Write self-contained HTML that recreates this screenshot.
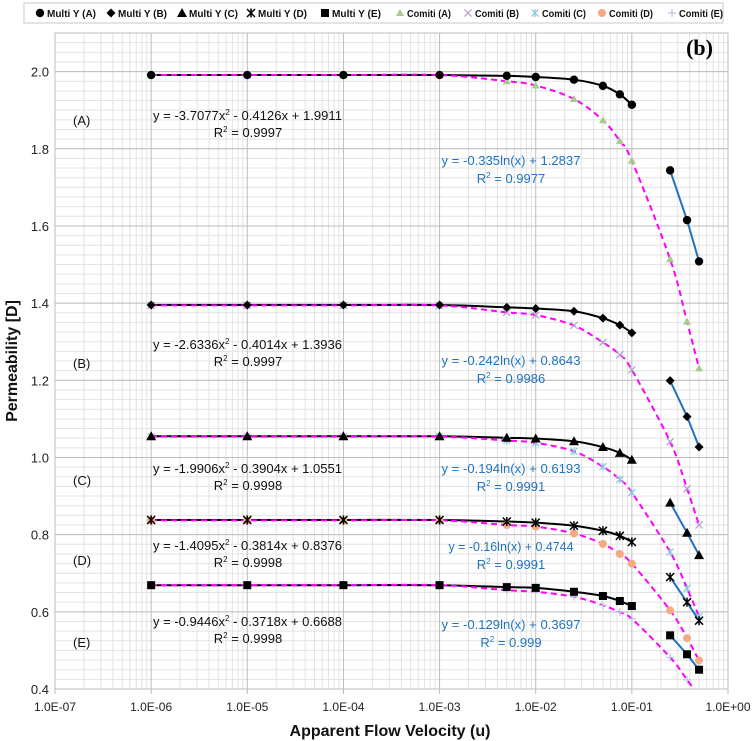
<!DOCTYPE html>
<html><head><meta charset="utf-8">
<style>
html,body{margin:0;padding:0;background:#fff;}
svg{display:block;font-family:"Liberation Sans",sans-serif;}
</style></head>
<body>
<svg id="chart" width="752" height="741" viewBox="0 0 752 741" xmlns="http://www.w3.org/2000/svg">
<g id="grid"></g>
<g id="series"></g>
<g id="labels"></g>
</svg>
<script>
// ---- data ----
const xTickLabels = ["1.0E-07","1.0E-06","1.0E-05","1.0E-04","1.0E-03","1.0E-02","1.0E-01","1.0E+00"];
const yTickLabels = ["0.4","0.6","0.8","1.0","1.2","1.4","1.6","1.8","2.0"];
const xMulti = [1e-6,1e-5,1e-4,1e-3,5e-3,1e-2,2.5e-2,5e-2,7.5e-2,1e-1];
const xBlue = [0.25,0.375,0.5];
const xComiti = [1e-6,1e-5,1e-4,1e-3,5e-3,1e-2,2.5e-2,5e-2,7.5e-2,1e-1,0.25,0.375,0.5];
const multiA = [1.991,1.991,1.991,1.991,1.989,1.986,1.979,1.963,1.941,1.914];
const multiB = [1.395,1.395,1.395,1.395,1.389,1.386,1.379,1.361,1.343,1.323];
const multiC = [1.055,1.055,1.055,1.055,1.051,1.049,1.042,1.027,1.012,0.994];
const multiD = [0.838,0.838,0.838,0.838,0.834,0.831,0.823,0.810,0.797,0.781];
const multiE = [0.669,0.669,0.669,0.669,0.664,0.662,0.652,0.641,0.628,0.615];
const blueA = [1.744,1.615,1.508];
const blueB = [1.199,1.106,1.027];
const blueC = [0.883,0.805,0.747];
const blueD = [0.690,0.625,0.577];
const blueE = [0.539,0.490,0.450];
const comitiA = [1.991,1.991,1.991,1.991,1.975,1.964,1.929,1.874,1.820,1.769,1.514,1.352,1.231];
const comitiB = [1.394,1.394,1.394,1.394,1.376,1.369,1.342,1.298,1.266,1.227,1.041,0.919,0.825];
const comitiC = [1.054,1.054,1.054,1.054,1.044,1.038,1.016,0.976,0.943,0.909,0.755,0.661,0.588];
const comitiD = [0.837,0.837,0.837,0.837,0.825,0.821,0.803,0.776,0.750,0.725,0.604,0.532,0.474];
const comitiE = [0.669,0.669,0.669,0.669,0.656,0.652,0.639,0.617,0.599,0.582,0.482,0.424,0.380];

// ---- axes ----
const L=55, R=728, T=33, B=689;
const yMin=0.4, yMax=2.1;
function xs(v){ return L + (Math.log10(v)+7)*(R-L)/7; }
function ys(v){ return B - (v-yMin)*(B-T)/(yMax-yMin); }
const NS="http://www.w3.org/2000/svg";
function mk(tag, attrs, parent){ const e=document.createElementNS(NS,tag); for(const k in attrs) e.setAttribute(k,attrs[k]); parent.appendChild(e); return e; }
const grid=document.getElementById('grid'), ser=document.getElementById('series'), lab=document.getElementById('labels');

for(let d=0; d<7; d++){ for(let m=2;m<=9;m++){ const x=xs(Math.pow(10,d-7)*m);
  const l=mk('line',{x1:x,x2:x,y1:T,y2:B,stroke:'#e3e3e3','stroke-width':1},grid);
    } }
for(let v=yMin; v<=yMax+1e-9; v+=0.025){ const y=ys(v);
  const l=mk('line',{x1:L,x2:R,y1:y,y2:y,stroke:'#e3e3e3','stroke-width':1},grid);
    }
xTickLabels.forEach((t,i)=>{ const x=xs(Math.pow(10,i-7));
  const l=mk('line',{x1:x,x2:x,y1:T,y2:B+5,stroke:'#bdbdbd','stroke-width':1},grid);
   
  const tx=mk('text',{x:x,y:711,'font-size':12,'text-anchor':'middle',fill:'#222'},lab); tx.textContent=t;
    });
yTickLabels.forEach((t)=>{ const v=parseFloat(t), y=ys(v);
  const l=mk('line',{x1:L,x2:R,y1:y,y2:y,stroke:'#bdbdbd','stroke-width':1},grid);
   
  const tx=mk('text',{x:49,y:y+5,'font-size':13,'text-anchor':'end',fill:'#222'},lab); tx.textContent=t;
    });
const fr=mk('rect',{x:L,y:T,width:R-L,height:B-T,fill:'none',stroke:'#bdbdbd','stroke-width':1},grid);
 

function smoothPath(xv, yv){
  const p=xv.map((x,i)=>[xs(x),ys(yv[i])]);
  let d='M'+p[0][0]+','+p[0][1];
  for(let i=0;i<p.length-1;i++){
    const p0=p[Math.max(0,i-1)], p1=p[i], p2=p[i+1], p3=p[Math.min(p.length-1,i+2)];
    const c1=[p1[0]+(p2[0]-p0[0])/6, p1[1]+(p2[1]-p0[1])/6];
    const c2=[p2[0]-(p3[0]-p1[0])/6, p2[1]-(p3[1]-p1[1])/6];
    d+=' C'+c1[0]+','+c1[1]+' '+c2[0]+','+c2[1]+' '+p2[0]+','+p2[1];
  }
  return d;
}
const multis=[multiA,multiB,multiC,multiD,multiE];
const blues=[blueA,blueB,blueC,blueD,blueE];
const comitis=[comitiA,comitiB,comitiC,comitiD,comitiE];
const letters=['a','b','c','d','e'];
const clip=mk('clipPath',{id:'pc'},ser); mk('rect',{x:L,y:T,width:R-L,height:B-T},clip);

multis.forEach((s,k)=>{
  const p=mk('path',{d:smoothPath(xMulti,s),fill:'none',stroke:'#000','stroke-width':2},ser);
   
});
comitis.forEach((s,k)=>{
  const p=mk('path',{d:smoothPath(xComiti,s),fill:'none',stroke:'#ff00ff','stroke-width':2,'stroke-dasharray':'6,4','clip-path':'url(#pc)'},ser);
   
});
blues.forEach((s,k)=>{
  const pts=xBlue.map((x,i)=>xs(x)+','+ys(s[i])).join(' ');
  const p=mk('polyline',{points:pts,fill:'none',stroke:'#1f73c0','stroke-width':2},ser);
   
});

function marker(type,x,y,parent){
  const g=mk('g',{},parent);
  if(type==='circle') mk('circle',{cx:x,cy:y,r:4.2,fill:'#000'},g);
  if(type==='diamond') mk('path',{d:`M${x},${y-4.5}L${x+4.5},${y}L${x},${y+4.5}L${x-4.5},${y}Z`,fill:'#000'},g);
  if(type==='tri') mk('path',{d:`M${x},${y-5}L${x+5},${y+4}L${x-5},${y+4}Z`,fill:'#000'},g);
  if(type==='star') mk('path',{d:`M${x-4},${y-4}L${x+4},${y+4}M${x+4},${y-4}L${x-4},${y+4}M${x},${y-4.5}V${y+4.5}`,stroke:'#000','stroke-width':1.5},g);
  if(type==='square') mk('rect',{x:x-4,y:y-4,width:8,height:8,fill:'#000'},g);
  if(type==='gtri') mk('path',{d:`M${x},${y-4}L${x+4},${y+3}L${x-4},${y+3}Z`,fill:'#a9c98f'},g);
  if(type==='xmark') mk('path',{d:`M${x-3.5},${y-3.5}L${x+3.5},${y+3.5}M${x+3.5},${y-3.5}L${x-3.5},${y+3.5}`,stroke:'#b39ad0','stroke-width':1.2},g);
  if(type==='xstar') mk('path',{d:`M${x-3.5},${y-3.5}L${x+3.5},${y+3.5}M${x+3.5},${y-3.5}L${x-3.5},${y+3.5}M${x},${y-4}V${y+4}`,stroke:'#86c5e0','stroke-width':1.2},g);
  if(type==='ocircle') mk('circle',{cx:x,cy:y,r:4,fill:'#f6a982'},g);
  if(type==='plus') mk('path',{d:`M${x-4},${y}H${x+4}M${x},${y-4}V${y+4}`,stroke:'#b6c8e0','stroke-width':1.2},g);
  return g;
}
const mTypes=['circle','diamond','tri','star','square'];
const cTypes=['gtri','xmark','xstar','ocircle','plus'];
comitis.forEach((s,k)=>{ xComiti.forEach((x,i)=>{ if(s[i]<yMin) return;
  const m=marker(cTypes[k],xs(x),ys(s[i]),ser);
    }); });
multis.forEach((s,k)=>{ xMulti.forEach((x,i)=>{
  const m=marker(mTypes[k],xs(x),ys(s[i]),ser);
    }); });
blues.forEach((s,k)=>{ xBlue.forEach((x,i)=>{
  const m=marker(mTypes[k],xs(x),ys(s[i]),ser);
    }); });

const legNames=['Multi Y (A)','Multi Y (B)','Multi Y (C)','Multi Y (D)','Multi Y (E)','Comiti (A)','Comiti (B)','Comiti (C)','Comiti (D)','Comiti (E)'];
const legTypes=['circle','diamond','tri','star','square','gtri','xmark','xstar','ocircle','plus'];
const legX=[40,111,182,251,325,400,468,535,602,672];
const lb=mk('rect',{x:24,y:3,width:699,height:20,fill:'#fff',stroke:'#c8c8c8'},lab);
 
legNames.forEach((n,i)=>{
  const m=marker(legTypes[i],legX[i],13,lab);
   
  const t=mk('text',{x:legX[i]+7,y:17,'font-size':10.5,'font-weight':'bold',fill:'#111',textLength:i<5?49:44,lengthAdjust:'spacingAndGlyphs'},lab);
  t.textContent=n;  
});
</script>
<script>
const lab2=document.getElementById('labels');
const NS2="http://www.w3.org/2000/svg";
function tx(x,y,s,attrs,name){ const e=document.createElementNS(NS2,'text'); e.setAttribute('x',x); e.setAttribute('y',y);
  for(const k in attrs) e.setAttribute(k,attrs[k]); e.innerHTML=s; lab2.appendChild(e);
    return e; }
const groupLabels=[['(A)',120],['(B)',363],['(C)',480],['(D)',560],['(E)',642]];
groupLabels.forEach(g=>tx(73,g[1]+5,g[0],{'font-size':13,fill:'#111'},'group-label'));
const sup='<tspan font-size="8" dy="-5">2</tspan><tspan dy="5">';
const polyEq=[['y = -3.7077x'+sup+' - 0.4126x + 1.9911</tspan>','R'+sup+' = 0.9997</tspan>',116],
 ['y = -2.6336x'+sup+' - 0.4014x + 1.3936</tspan>','R'+sup+' = 0.9997</tspan>',345],
 ['y = -1.9906x'+sup+' - 0.3904x + 1.0551</tspan>','R'+sup+' = 0.9998</tspan>',469],
 ['y = -1.4095x'+sup+' - 0.3814x + 0.8376</tspan>','R'+sup+' = 0.9998</tspan>',546],
 ['y = -0.9446x'+sup+' - 0.3718x + 0.6688</tspan>','R'+sup+' = 0.9998</tspan>',622]];
polyEq.forEach(e=>{ tx(153,e[2]+4,e[0],{'font-size':13,fill:'#111',textLength:189,lengthAdjust:'spacingAndGlyphs'},'poly-fit-equation');
  tx(248,e[2]+21,e[1],{'font-size':13,fill:'#111','text-anchor':'middle'},'poly-fit-r2'); });
const logEq=[['y = -0.335ln(x) + 1.2837','R'+sup+' = 0.9977</tspan>',161],
 ['y = -0.242ln(x) + 0.8643','R'+sup+' = 0.9986</tspan>',361],
 ['y = -0.194ln(x) + 0.6193','R'+sup+' = 0.9991</tspan>',469],
 ['y = -0.16ln(x) + 0.4744','R'+sup+' = 0.9991</tspan>',547],
 ['y = -0.129ln(x) + 0.3697','R'+sup+' = 0.999</tspan>',625]];
logEq.forEach((e,i)=>{ tx(511,e[2]+4,e[0],{'font-size':13,fill:'#1f73c0','text-anchor':'middle',textLength:i==3?125:139,lengthAdjust:'spacingAndGlyphs'},'log-fit-equation');
  tx(511,e[2]+22,e[1],{'font-size':13,fill:'#1f73c0','text-anchor':'middle'},'log-fit-r2'); });
tx(713,55,'(b)',{'font-size':22,'font-weight':'bold','font-family':'Liberation Serif, serif','text-anchor':'end',fill:'#000'},'panel-label');
tx(390,736,'Apparent Flow Velocity (u)',{'font-size':16,'font-weight':'bold','text-anchor':'middle',fill:'#111'},'x-axis-title');
tx(0,0,'Permeability [D]',{'font-size':16,'font-weight':'bold','text-anchor':'middle',fill:'#111',transform:'translate(17,361) rotate(-90)'},'y-axis-title');
</script>
</body></html>
